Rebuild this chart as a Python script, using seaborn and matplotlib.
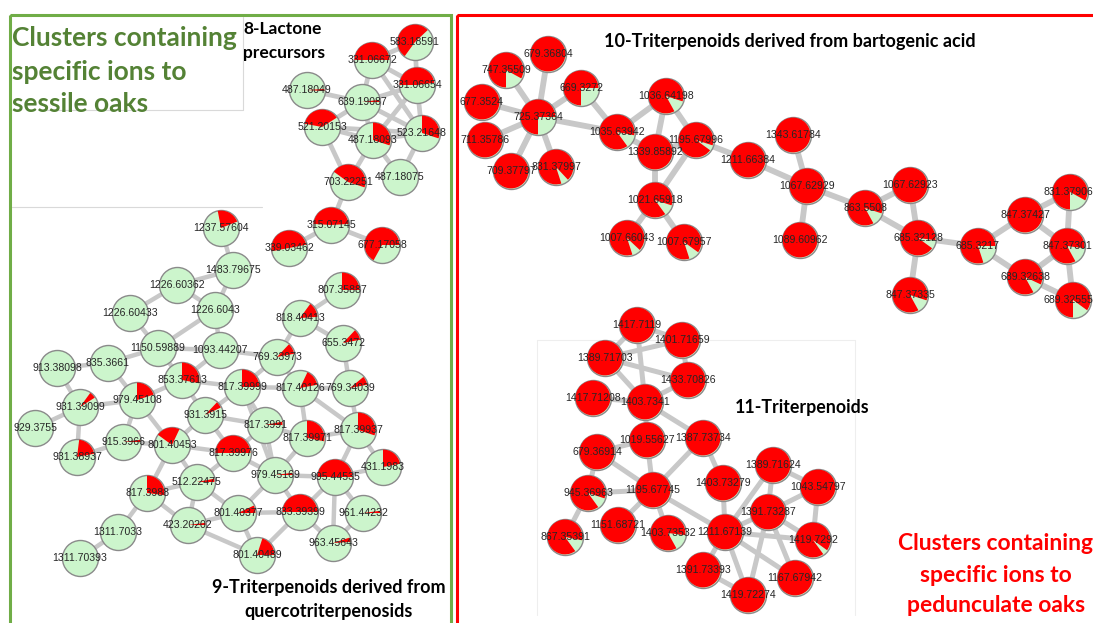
import numpy as np
import pandas as pd
import seaborn as sns
import matplotlib.pyplot as plt
from matplotlib.patches import Wedge, Rectangle
from matplotlib.collections import LineCollection

# node labels (m/z), layout position (px), red slice: start (fraction clockwise from 12 o'clock) and size
node_labels = [
    # 8 - lactone precursors
    "583.18591", "331.06672", "331.06654", "487.18049", "639.19087", "521.20153",
    "487.18093", "523.21648", "703.22251", "487.18075", "315.07145", "339.03462", "677.17058",
    # 9 - triterpenoids from quercotriterpenosids
    "1237.57604", "1483.79675", "1226.60362", "1226.6043", "1226.60433", "1150.59889",
    "1093.44207", "913.38098", "835.3661", "853.37613", "979.45108", "931.39099",
    "929.3755", "931.38937", "915.3966", "801.40453", "817.3988", "512.22475",
    "423.20202", "1311.7033", "1311.70393", "931.3915", "817.39976", "817.3991",
    "817.39971", "817.39937", "431.1983", "979.45169", "995.44535", "801.40377",
    "833.39399", "961.44232", "963.45643", "801.40489", "807.35887", "818.40413",
    "655.3472", "769.33973", "817.39999", "817.40126", "769.34039",
    # 10 - triterpenoids from bartogenic acid
    "747.35509", "679.36804", "669.3272", "677.3524", "725.37364", "711.35786",
    "709.37797", "831.37997", "1036.64198", "1035.63942", "1339.85892", "1195.67996",
    "1021.65918", "1007.66043", "1007.67957", "1211.66384", "1343.61784", "1067.62929",
    "1089.60962", "863.5508", "1067.62923", "685.32128", "847.37335", "685.3217",
    "847.37427", "831.37906", "847.37301", "689.32638", "689.32555",
    # 11 - triterpenoids
    "1417.7119", "1401.71659", "1389.71703", "1433.70826", "1417.71208", "1403.7341",
    "1019.55627", "1387.73734", "679.36914", "945.36963", "1195.67745", "867.35391",
    "1151.68721", "1403.73532", "1403.73279", "1389.71624", "1043.54797", "1391.73287",
    "1211.67139", "1419.7292", "1391.73393", "1419.72274", "1167.67942",
]
node_x = [
    415, 372, 417, 307, 362, 322, 373, 422, 348, 400, 331, 289, 382,
    221, 233, 177, 215, 130, 158, 220, 57, 108, 182, 137, 80,
    35, 77, 123, 172, 147, 197, 188, 118, 80, 205, 233, 265,
    307, 358, 383, 275, 335, 238, 300, 363, 333, 257, 342, 300,
    343, 277, 242, 300, 350,
    506, 548, 581, 482, 538, 485, 511, 556, 666, 617, 655, 696,
    655, 627, 684, 748, 793, 807, 800, 865, 910, 918, 910, 978,
    1025, 1070, 1067, 1025, 1073,
    637, 682, 605, 688, 593, 645, 647, 703, 597, 588, 653, 565,
    618, 668, 723, 773, 818, 768, 725, 813, 703, 748, 795,
]
node_y = [
    42, 60, 85, 90, 102, 127, 140, 133, 182, 177, 225, 248, 245,
    228, 270, 285, 310, 313, 348, 350, 368, 363, 380, 400, 407,
    428, 457, 442, 445, 493, 482, 525, 532, 558, 415, 453, 425,
    438, 430, 467, 475, 477, 513, 512, 513, 543, 555, 290, 318,
    343, 357, 387, 388, 388,
    70, 54, 88, 102, 117, 140, 171, 167, 96, 132, 152, 140,
    200, 238, 242, 160, 135, 186, 240, 208, 185, 238, 295, 246,
    215, 192, 246, 277, 300,
    325, 340, 358, 380, 398, 402, 440, 438, 452, 493, 490, 537,
    525, 533, 483, 465, 487, 512, 532, 540, 570, 595, 578,
]
red_start = [
    0.60, 0.75, 0.75, 0.24, 0.23, 0.78, 0.00, 0.00, 0.85, 0.00, 0.76, 0.72, 0.58,
    0.97, 0.00, 0.00, 0.00, 0.00, 0.00, 0.00, 0.00, 0.00, 0.00, 0.00, 0.10,
    0.00, 0.02, 0.23, 0.85, 0.00, 0.22, 0.23, 0.00, 0.00, 0.12, 0.75, 0.22,
    0.00, 0.00, 0.00, 0.23, 0.75, 0.18, 0.75, 0.23, 0.20, 0.05, 0.00, 0.10,
    0.12, 0.12, 0.00, 0.07, 0.14,
    0.50, 0.00, 0.50, 0.00, 0.50, 0.00, 0.00, 0.45, 0.42, 0.40, 0.00, 0.35,
    0.40, 0.45, 0.45, 0.00, 0.00, 0.00, 0.00, 0.42, 0.00, 0.35, 0.42, 0.45,
    0.00, 0.50, 0.42, 0.42, 0.50,
    0.00, 0.00, 0.00, 0.00, 0.00, 0.00, 0.00, 0.00, 0.00, 0.40, 0.00, 0.40,
    0.00, 0.42, 0.00, 0.00, 0.00, 0.00, 0.00, 0.40, 0.00, 0.00, 0.00,
]
red_frac = [
    0.53, 0.50, 0.48, 0.02, 0.02, 0.38, 0.30, 0.30, 0.45, 0.00, 0.48, 0.50, 0.67,
    0.22, 0.00, 0.00, 0.00, 0.00, 0.00, 0.00, 0.00, 0.00, 0.28, 0.20, 0.06,
    0.00, 0.20, 0.02, 0.22, 0.27, 0.03, 0.02, 0.00, 0.00, 0.06, 0.50, 0.03,
    0.28, 0.30, 0.22, 0.02, 0.50, 0.07, 0.50, 0.02, 0.04, 0.20, 0.25, 0.14,
    0.10, 0.10, 0.25, 0.15, 0.08,
    0.83, 1.00, 0.75, 1.00, 0.75, 1.00, 1.00, 0.93, 0.88, 0.88, 1.00, 0.95,
    0.90, 0.92, 0.90, 1.00, 1.00, 1.00, 1.00, 0.88, 1.00, 0.92, 0.88, 0.80,
    1.00, 0.83, 0.85, 0.90, 0.85,
    1.00, 1.00, 1.00, 1.00, 1.00, 1.00, 1.00, 1.00, 1.00, 0.90, 1.00, 0.88,
    1.00, 0.85, 1.00, 1.00, 1.00, 1.00, 1.00, 0.95, 1.00, 1.00, 1.00,
]

edges_8 = [
    ("583.18591", "331.06672"), ("583.18591", "331.06654"), ("331.06672", "331.06654"),
    ("331.06672", "639.19087"), ("331.06672", "523.21648"), ("331.06654", "639.19087"),
    ("331.06654", "523.21648"), ("331.06654", "487.18093"), ("639.19087", "521.20153"),
    ("639.19087", "487.18093"), ("639.19087", "523.21648"), ("487.18049", "639.19087"),
    ("521.20153", "487.18093"), ("521.20153", "523.21648"), ("521.20153", "703.22251"),
    ("487.18093", "703.22251"), ("487.18093", "487.18075"), ("523.21648", "487.18075"),
    ("523.21648", "487.18093"), ("703.22251", "315.07145"), ("315.07145", "339.03462"),
    ("315.07145", "677.17058"),
]
edges_9 = [
    ("913.38098", "835.3661"), ("913.38098", "931.39099"), ("835.3661", "1150.59889"),
    ("835.3661", "979.45108"), ("1226.60433", "1226.60362"), ("1226.60433", "1150.59889"),
    ("1226.60362", "1483.79675"), ("1226.60362", "1226.6043"), ("1483.79675", "1237.57604"),
    ("1483.79675", "1226.6043"), ("1226.6043", "1150.59889"), ("1226.6043", "1093.44207"),
    ("1150.59889", "1093.44207"), ("1150.59889", "853.37613"), ("1093.44207", "853.37613"),
    ("1093.44207", "769.33973"), ("853.37613", "979.45108"), ("853.37613", "817.39999"),
    ("853.37613", "931.3915"), ("979.45108", "931.39099"), ("979.45108", "915.3966"),
    ("979.45108", "801.40453"), ("931.39099", "931.38937"), ("931.39099", "929.3755"),
    ("915.3966", "931.38937"), ("915.3966", "801.40453"), ("801.40453", "817.3988"),
    ("801.40453", "512.22475"), ("801.40453", "817.39976"), ("817.3988", "1311.7033"),
    ("1311.7033", "1311.70393"), ("817.3988", "512.22475"), ("817.3988", "423.20202"),
    ("512.22475", "423.20202"), ("512.22475", "801.40377"), ("423.20202", "801.40377"),
    ("423.20202", "801.40489"), ("801.40377", "801.40489"), ("801.40377", "833.39399"),
    ("801.40377", "979.45169"), ("801.40489", "833.39399"), ("833.39399", "995.44535"),
    ("833.39399", "963.45643"), ("833.39399", "979.45169"), ("995.44535", "961.44232"),
    ("995.44535", "963.45643"), ("995.44535", "431.1983"), ("995.44535", "817.39937"),
    ("963.45643", "961.44232"), ("817.39937", "431.1983"), ("817.39937", "769.34039"),
    ("769.34039", "655.3472"), ("769.34039", "817.40126"), ("655.3472", "818.40413"),
    ("818.40413", "807.35887"), ("818.40413", "769.33973"), ("769.33973", "817.39999"),
    ("769.33973", "817.40126"), ("817.39999", "817.3991"), ("817.39999", "931.3915"),
    ("817.39999", "817.40126"), ("817.3991", "817.39976"), ("817.3991", "817.39971"),
    ("817.39971", "817.40126"), ("817.39971", "979.45169"), ("817.39971", "817.39937"),
    ("817.39976", "931.3915"), ("817.39976", "979.45169"), ("931.3915", "801.40453"),
    ("817.40126", "817.39937"), ("817.39976", "512.22475"), ("817.3991", "979.45169"),
    ("979.45169", "995.44535"), ("817.39999", "979.45169"), ("931.3915", "817.3991"),
]
edges_10 = [
    ("747.35509", "725.37364"), ("679.36804", "725.37364"), ("669.3272", "725.37364"),
    ("677.3524", "725.37364"), ("711.35786", "725.37364"), ("709.37797", "725.37364"),
    ("831.37997", "725.37364"), ("725.37364", "1035.63942"), ("669.3272", "1035.63942"),
    ("1035.63942", "1036.64198"), ("1035.63942", "1339.85892"), ("1036.64198", "1339.85892"),
    ("1036.64198", "1195.67996"), ("1339.85892", "1195.67996"), ("1339.85892", "1021.65918"),
    ("1195.67996", "1021.65918"), ("1021.65918", "1007.66043"), ("1021.65918", "1007.67957"),
    ("1195.67996", "1211.66384"), ("1211.66384", "1067.62929"), ("1343.61784", "1067.62929"),
    ("1067.62929", "1089.60962"), ("1067.62929", "863.5508"), ("863.5508", "1067.62923"),
    ("863.5508", "685.32128"), ("1067.62923", "685.32128"), ("685.32128", "847.37335"),
    ("685.32128", "685.3217"), ("685.3217", "847.37427"), ("685.3217", "689.32638"),
    ("847.37427", "831.37906"), ("847.37427", "847.37301"), ("831.37906", "847.37301"),
    ("847.37301", "689.32638"), ("847.37301", "689.32555"), ("689.32638", "689.32555"),
]
edges_11 = [
    ("1417.7119", "1401.71659"), ("1417.7119", "1389.71703"), ("1417.7119", "1403.7341"),
    ("1401.71659", "1389.71703"), ("1401.71659", "1433.70826"), ("1389.71703", "1403.7341"),
    ("1389.71703", "1433.70826"), ("1433.70826", "1403.7341"), ("1417.71208", "1403.7341"),
    ("1403.7341", "1019.55627"), ("1403.7341", "1387.73734"), ("1019.55627", "679.36914"),
    ("1019.55627", "1195.67745"), ("1387.73734", "1195.67745"), ("1387.73734", "1403.73279"),
    ("679.36914", "1195.67745"), ("679.36914", "945.36963"), ("945.36963", "1195.67745"),
    ("945.36963", "867.35391"), ("1195.67745", "1151.68721"), ("1195.67745", "1403.73532"),
    ("1195.67745", "1211.67139"), ("1403.73279", "1211.67139"), ("1211.67139", "1391.73287"),
    ("1211.67139", "1389.71624"), ("1211.67139", "1419.7292"), ("1211.67139", "1391.73393"),
    ("1211.67139", "1419.72274"), ("1211.67139", "1167.67942"), ("1391.73287", "1389.71624"),
    ("1391.73287", "1043.54797"), ("1391.73287", "1419.7292"), ("1389.71624", "1043.54797"),
    ("1043.54797", "1419.7292"), ("1391.73287", "1419.72274"), ("1391.73393", "1419.72274"),
    ("1391.73287", "1167.67942"),
]

W, H = 1093, 623
R = 18
GREEN_NODE = "#ccf5cc"
RED = "#ff0000"

sns.set_theme(style="white")
plt.rcParams['font.family'] = ['Liberation Sans', 'DejaVu Sans']

df = pd.DataFrame({"label": node_labels, "x": node_x, "y": node_y,
                   "start": red_start, "frac": red_frac})
pos = {row.label: (row.x, row.y) for row in df.itertuples()}

fig = plt.figure(figsize=(W / 100, H / 100), dpi=100)
ax = fig.add_axes([0, 0, 1, 1])

# faint frames left over from pasted screenshots
faint = "#d9d9d9"
ax.plot([40, 243], [110, 110], color=faint, lw=0.8, zorder=0)
ax.plot([243, 243], [17, 110], color=faint, lw=0.8, zorder=0)
ax.plot([12, 262], [207, 207], color=faint, lw=0.8, zorder=0)
ax.plot([537, 537, 855, 855], [615, 340, 340, 615], color="#eeeeee", lw=0.8, zorder=0)

# panel borders
ax.add_patch(Rectangle((10, 15), 441, 620, fill=False, ec="#70ad47", lw=2.2, zorder=5))
ax.add_patch(Rectangle((457, 15), 650, 620, fill=False, ec=RED, lw=2.2, zorder=5))

# edges
for edges, lw in [(edges_8, 3.4), (edges_9, 3.2), (edges_10, 4.2), (edges_11, 3.6)]:
    segs = [[pos[a], pos[b]] for a, b in edges]
    ax.add_collection(LineCollection(segs, colors="#c8c8c8", linewidths=lw, zorder=1))

# node discs
sns.scatterplot(data=df, x="x", y="y", s=(2 * R * 0.72) ** 2, color=GREEN_NODE,
                edgecolor="#8a8a8a", linewidth=1.0, legend=False, ax=ax, zorder=2)
ax.set_xlim(0, W)
ax.set_ylim(H, 0)
ax.axis('off')

# red share of each pie (y axis is inverted, so angles run clockwise on screen)
for row in df.itertuples():
    if row.frac <= 0:
        continue
    t1 = 270 + 360 * row.start
    t2 = t1 + 360 * row.frac
    ax.add_patch(Wedge((row.x, row.y), R - 0.6, t1, t2, fc=RED, ec="none", zorder=3))

for row in df.itertuples():
    tx = min(row.x, W - 25)
    ax.text(tx, row.y, row.label, ha="center", va="center", fontsize=7.6,
            color="#262626", zorder=4)

# headings
title_font = ['Lato', 'DejaVu Sans']
for txt, yy in zip(["Clusters containing", "specific ions to", "sessile oaks"], [38, 72, 104]):
    ax.text(12, yy, txt, color="#548235", fontsize=19, fontweight="bold",
            family=title_font, ha="left", va="center", zorder=6)
for txt, yy in zip(["8-Lactone", "precursors"], [29, 53]):
    ax.text(243, yy, txt, color="black", fontsize=12.5, fontweight="bold",
            family=title_font, ha="left", va="center", zorder=6)
ax.text(604, 42, "10-Triterpenoids derived from bartogenic acid", color="black",
        fontsize=13, fontweight="bold", family=title_font, ha="left", va="center", zorder=6)
ax.text(735, 408, "11-Triterpenoids", color="black", fontsize=12.8, fontweight="bold",
        family=title_font, ha="left", va="center", zorder=6)
for txt, yy in zip(["9-Triterpenoids derived from", "quercotriterpenosids"], [588, 611]):
    ax.text(329, yy, txt, color="black", fontsize=13, fontweight="bold",
            family=title_font, ha="center", va="center", zorder=6)
for txt, yy in zip(["Clusters containing", "specific ions to", "pedunculate oaks"],
                   [543, 575, 606]):
    ax.text(996, yy, txt, color=RED, fontsize=16.5, fontweight="bold",
            family=title_font, ha="center", va="center", zorder=6)

fig.savefig("out.png", dpi=100)
